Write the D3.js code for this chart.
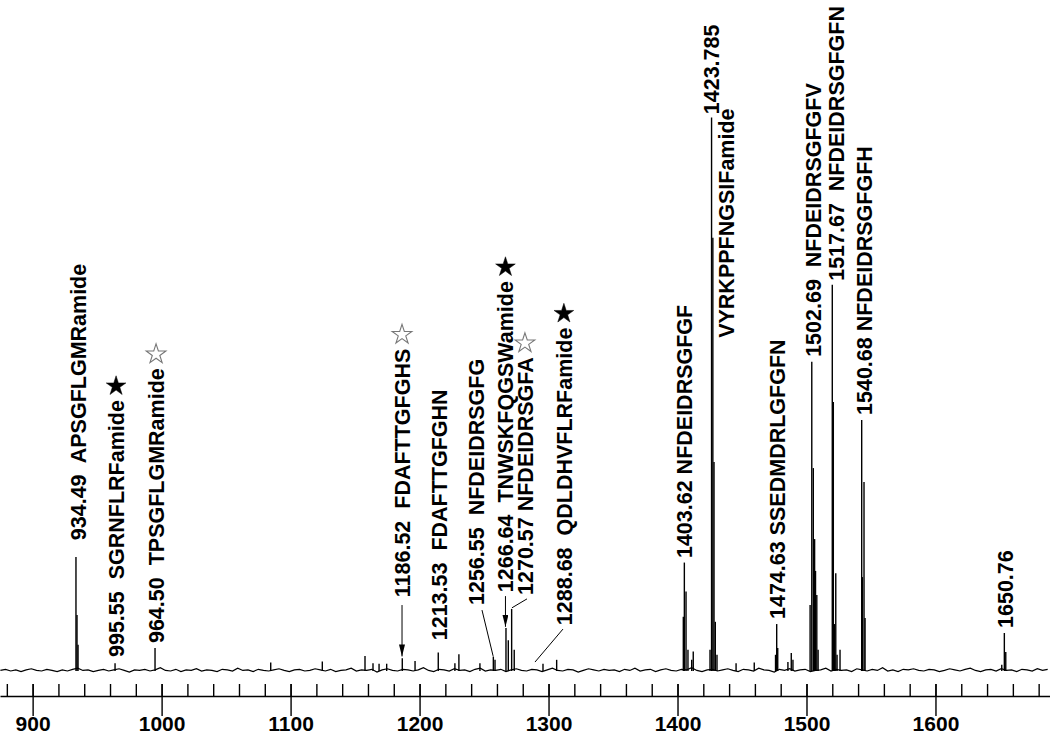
<!DOCTYPE html>
<html>
<head>
<meta charset="utf-8">
<script src="https://cdn.jsdelivr.net/npm/d3@7"></script>
<style>
body{margin:0;background:#fff;}
text{font-family:"Liberation Sans",Arial,Helvetica,sans-serif;font-weight:bold;}
</style>
</head>
<body>
<svg id="chart" width="1050" height="735"></svg>
<script>
// ---------- DATA ----------
const axisDomain = [874.7, 1688.8];
const majorTicks = [900, 1000, 1100, 1200, 1300, 1400, 1500, 1600];
const minorTicks = [880,900,920,940,960,980,1000,1020,1040,1060,1080,1100,1120,1140,1160,1180,1200,1220,1240,1260,1280,1300,1320,1340,1360,1380,1400,1420,1440,1460,1480,1500,1520,1540,1560,1580,1600,1620,1640,1660,1680];

// Peaks (m/z, relative intensity)
const peakMz  = [933.6, 934.4, 935.2, 963.9, 994.9, 1084.6, 1124.6, 1157.7, 1163.9, 1168.6, 1174.5,
  1186.6, 1196.5, 1214.5, 1227.4, 1230.5, 1246.8, 1257.2, 1258.5, 1267.0, 1268.8, 1271.4, 1273.4,
  1295.7, 1306.3,
  1404.5, 1405.3, 1406.6, 1408.1, 1411.0, 1412.2,
  1425.2, 1426.4, 1427.4, 1428.3, 1429.3, 1430.6,
  1445.4, 1459.5,
  1476.0, 1476.9, 1477.7, 1485.6, 1488.2, 1489.5,
  1502.8, 1504.1, 1505.3, 1506.3, 1507.0, 1508.0, 1509.0,
  1520.0, 1520.8, 1521.6, 1522.7, 1523.7, 1526.0,
  1542.8, 1543.3, 1544.6, 1545.4,
  1651.4, 1653.4, 1654.5];
const peakInt = [20.4, 10.0, 4.7, 1.4, 4.1, 1.5, 1.7, 2.7, 1.4, 1.3, 1.3,
  2.3, 1.8, 3.3, 1.4, 3.0, 1.4, 2.6, 2.0, 7.7, 5.5, 11.1, 3.8,
  1.3, 2.0,
  9.7, 19.4, 14.2, 3.8, 2.0, 3.5,
  3.8, 99.0, 77.5, 37.4, 8.8, 2.9,
  1.4, 1.5,
  2.9, 8.4, 4.1, 1.6, 3.2, 2.0,
  11.8, 55.3, 36.3, 23.6, 17.9, 13.6, 3.8,
  69.1, 48.1, 8.4, 17.5, 2.9, 3.8,
  44.9, 16.8, 33.8, 9.5,
  1.1, 6.8, 3.4];

// Baseline noise (relative intensity), sampled every 4 m/z from 875
const noiseStart = 875, noiseStep = 4;
const noiseVals = [
 0.1,0.3,0.0,0.2,-0.1,0.2,0.4,0.1,0.0,0.3,0.1,-0.1,0.2,0.0,0.3,0.5,0.1,0.2,-0.1,0.1,
 0.3,0.0,0.2,0.4,0.1,-0.2,0.2,0.1,0.3,0.0,0.2,0.6,0.1,0.0,0.3,-0.1,0.2,0.1,0.4,0.0,
 0.2,0.1,-0.1,0.3,0.2,0.0,0.5,0.1,0.2,-0.1,0.3,0.1,0.0,0.2,0.4,0.1,-0.1,0.2,0.3,0.0,
 0.1,0.4,0.2,0.0,0.3,-0.1,0.1,0.2,0.5,0.0,0.2,0.1,0.3,-0.2,0.2,0.4,0.1,0.0,0.3,0.2,
 0.0,0.2,0.6,0.1,-0.1,0.3,0.2,0.0,0.4,0.1,0.2,-0.1,0.3,0.5,0.0,0.2,0.1,0.3,-0.1,0.2,
 0.4,0.1,0.0,0.3,0.2,-0.1,0.2,0.5,0.1,0.0,0.3,0.2,-0.2,0.1,0.4,0.2,0.0,0.3,0.1,0.2,
 -0.1,0.3,0.1,0.5,0.0,0.2,0.3,-0.1,0.2,0.4,0.1,0.0,0.3,0.2,0.6,0.1,-0.1,0.2,0.3,0.0,
 0.2,0.4,0.1,-0.1,0.3,0.2,0.0,0.5,0.2,0.1,-0.2,0.3,0.1,0.4,0.0,0.2,0.3,-0.1,0.1,0.2,
 0.5,0.0,0.3,0.1,0.2,-0.1,0.4,0.2,0.0,0.3,0.1,0.6,0.0,0.2,-0.1,0.3,0.2,0.4,0.1,0.0,
 0.3,0.2,-0.1,0.1,0.4,0.2,0.0,0.3,0.5,0.1,-0.1,0.2,0.3,0.0,0.4,0.1,0.2,-0.1,0.3,0.2,
 0.0,0.4,0.1,0.3];

// Peak labels
const labelText = [
  "934.49  APSGFLGMRamide",
  "995.55  SGRNFLRFamide",
  "964.50  TPSGFLGMRamide",
  "1186.52  FDAFTTGFGHS",
  "1213.53  FDAFTTGFGHN",
  "1256.55  NFDEIDRSGFG",
  "1266.64  TNWSKFQGSWamide",
  "1270.57 NFDEIDRSGFA",
  "1288.68  QDLDHVFLRFamide",
  "1403.62 NFDEIDRSGFGF",
  "1423.785",
  "VYRKPPFNGSIFamide",
  "1474.63 SSEDMDRLGFGFN",
  "1502.69  NFDEIDRSGFGFV",
  "1517.67  NFDEIDRSGFGFN",
  "1540.68 NFDEIDRSGFGFH",
  "1650.76"];
// anchor (bottom end of each rotated label) in data units
const labelMz  = [935.1, 964.7, 995.7, 1186.4, 1215.1, 1243.8, 1266.6, 1281.7, 1311.9, 1405.0, 1426.2, 1437.6, 1477.1, 1505.0, 1523.0, 1545.0, 1653.9];
const labelInt = [23.4, 2.5, 5.0, 13.2, 5.5, 11.8, 14.1, 13.6, 8.2, 20.2, 99.6, 59.6, 9.3, 56.2, 69.8, 45.8, 7.7];

// Stars: which label they crown, and filled (black) or open
const starLabel  = [1, 2, 3, 6, 7, 8];
const starFilled = [true, false, false, true, false, true];

// Leader lines / arrows
const leaderFromMz  = [1186.4, 1248.4, 1266.6, 1283.3, 1311.2];
const leaderFromInt = [11.8, 10.9, 13.4, 12.9, 7.5];
const leaderToMz    = [1186.4, 1257.0, 1266.6, 1271.6, 1289.5];
const leaderToInt   = [2.6, 2.7, 7.9, 11.3, 1.6];
const leaderArrow   = [true, false, true, false, false];

// ---------- DRAW ----------
const W = 1050, H = 735;
const FONT = 21.5;
const svg = d3.select("#chart");
svg.append("rect").attr("width", W).attr("height", H).attr("fill", "#fff");

const x = d3.scaleLinear().domain(axisDomain).range([0, W]);
const y = d3.scaleLinear().domain([0, 100]).range([671, 112]);
const axisY = 696;

const defs = svg.append("defs");
defs.append("marker").attr("id", "arr")
  .attr("markerUnits", "userSpaceOnUse")
  .attr("viewBox", "0 0 12 6").attr("refX", 12).attr("refY", 3)
  .attr("markerWidth", 12).attr("markerHeight", 6).attr("orient", "auto")
  .append("path").attr("d", "M0,0 L12,3 L0,6 Z").attr("fill", "#000");

// baseline noise
const noiseData = noiseVals.map((v, i) => [noiseStart + i * noiseStep, v]);
svg.append("path")
  .datum(noiseData)
  .attr("fill", "none").attr("stroke", "#000").attr("stroke-width", 1.2)
  .attr("d", d3.line().x(d => x(d[0])).y(d => y(d[1])));

// peaks
svg.append("g").selectAll("line").data(peakMz.map((m, i) => [m, peakInt[i]]))
  .join("line")
  .attr("x1", d => x(d[0])).attr("x2", d => x(d[0]))
  .attr("y1", y(0)).attr("y2", d => y(d[1]))
  .attr("stroke", "#000").attr("stroke-width", 1.4);

// axis
const minorAxis = d3.axisBottom(x).tickValues(minorTicks).tickSizeInner(-12).tickSizeOuter(0).tickFormat("");
const gMinor = svg.append("g").attr("transform", `translate(0,${axisY})`).call(minorAxis);
gMinor.select(".domain").attr("stroke", "#000").attr("stroke-width", 1.4);
gMinor.selectAll(".tick line").attr("stroke", "#000").attr("stroke-width", 1.4);

const majorAxis = d3.axisBottom(x).tickValues(majorTicks).tickSizeInner(20).tickSizeOuter(0).tickPadding(0).tickFormat(d3.format("d"));
const gMajor = svg.append("g").attr("transform", `translate(0,${axisY})`).call(majorAxis);
gMajor.select(".domain").remove();
gMajor.selectAll(".tick line").attr("y1", -12).attr("stroke", "#000").attr("stroke-width", 1.4);
gMajor.selectAll(".tick text")
  .attr("fill", "#000")
  .style("font-family", '"Liberation Sans", Arial, sans-serif')
  .style("font-weight", "bold").style("font-size", "21px");

// leaders
svg.append("g").selectAll("line").data(leaderFromMz.map((m, i) => i))
  .join("line")
  .attr("x1", i => x(leaderFromMz[i])).attr("y1", i => y(leaderFromInt[i]))
  .attr("x2", i => x(leaderToMz[i])).attr("y2", i => y(leaderToInt[i]))
  .attr("stroke", "#000").attr("stroke-width", 1)
  .attr("marker-end", i => leaderArrow[i] ? "url(#arr)" : null);

// labels
const labels = svg.append("g").selectAll("text").data(labelText.map((t, i) => i))
  .join("text")
  .attr("transform", i => `translate(${x(labelMz[i])},${y(labelInt[i])}) rotate(-90)`)
  .attr("dy", "0.36em")
  .style("white-space", "pre")
  .style("font-size", FONT + "px")
  .attr("fill", "#000")
  .text(i => labelText[i]);
const labelLen = labels.nodes().map(n => n.getComputedTextLength());

// stars, sitting just above the top end of their label
const star = d3.symbol().type(d3.symbolStar).size(120);
svg.append("g").selectAll("path").data(starLabel.map((l, i) => i))
  .join("path")
  .attr("transform", i => {
    const l = starLabel[i];
    return `translate(${x(labelMz[l])},${y(labelInt[l]) - labelLen[l] - 14})`;
  })
  .attr("d", star)
  .attr("fill", i => starFilled[i] ? "#000" : "#fff")
  .attr("stroke", i => starFilled[i] ? "#000" : "#777")
  .attr("stroke-width", i => starFilled[i] ? 0.5 : 1.1);
</script>
</body>
</html>
